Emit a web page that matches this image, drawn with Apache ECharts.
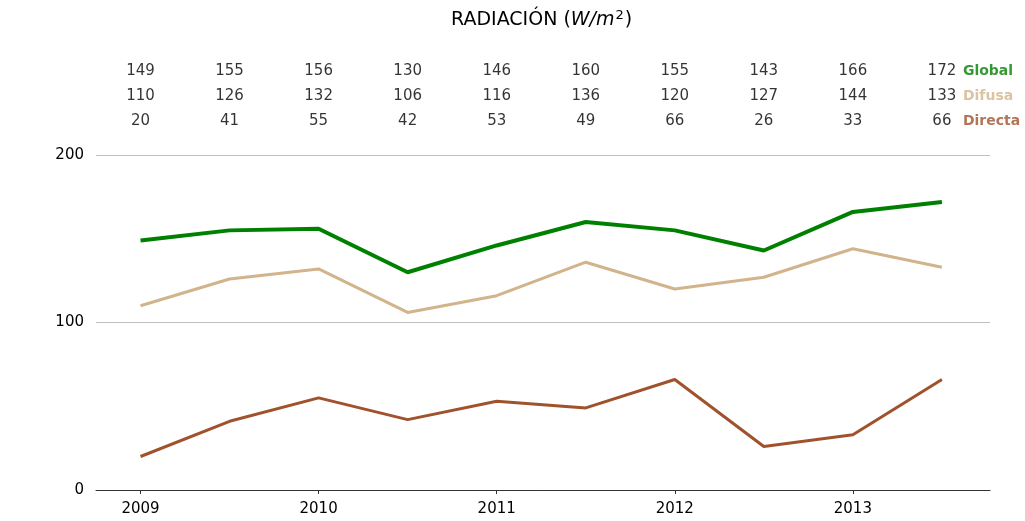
<!DOCTYPE html>
<html lang="es">
<head>
    <meta charset="UTF-8">
    <title>Radiación</title>
    <style>
        html, body { margin: 0; padding: 0; background: #fff; }
        #main { width: 1025px; height: 521px; }
    </style>
</head>
<body>
<div id="main"></div>
<script src="https://cdn.jsdelivr.net/npm/echarts@6/dist/echarts.min.js"></script>
<script>
    // semestres (2009, 2009.5, ...)
    const periods = [2009, 2009.5, 2010, 2010.5, 2011, 2011.5, 2012, 2012.5, 2013, 2013.5]
    const yearTicks = [2009, 2010, 2011, 2012, 2013]
    const globalVals = [149, 155, 156, 130, 146, 160, 155, 143, 166, 172]
    const difusaVals = [110, 126, 132, 106, 116, 136, 120, 127, 144, 133]
    const directaVals = [20, 41, 55, 42, 53, 49, 66, 26, 33, 66]
    const rowNames = ['Directa', 'Difusa', 'Global']

    const font = 'DejaVu Sans'
    const colors = { Global: '#008000', Difusa: '#d2b48c', Directa: '#a0522d' }
    const valsByName = { Global: globalVals, Difusa: difusaVals, Directa: directaVals }

    let myChart = echarts.init(document.querySelector('#main'))

    const xRange = { min: 2008.75, max: 2013.77 }

    // filas de números sobre la gráfica
    let numberSeries = rowNames.map(name => ({
        type: 'scatter',
        xAxisIndex: 1,
        yAxisIndex: 1,
        symbolSize: 0,
        silent: true,
        data: periods.map((p, i) => [p, name, valsByName[name][i]]),
        label: {
            show: true,
            position: 'inside',
            formatter: p => String(p.value[2]),
            color: '#000',
            fontFamily: font,
            fontSize: 15
        }
    }))

    let nameSeries = {
        type: 'scatter',
        xAxisIndex: 1,
        yAxisIndex: 1,
        symbolSize: 0,
        silent: true,
        data: rowNames.map(name => ({
            value: [periods[periods.length - 1], name],
            label: { color: colors[name] }
        })),
        label: {
            show: true,
            position: 'right',
            distance: 21,
            formatter: p => p.value[1],
            fontFamily: font,
            fontSize: 14,
            fontWeight: 'bold'
        }
    }

    let lineSeries = [
        { name: 'Global', data: globalVals, width: 4 },
        { name: 'Difusa', data: difusaVals, width: 3 },
        { name: 'Directa', data: directaVals, width: 3 }
    ].map(s => ({
        name: s.name,
        type: 'line',
        xAxisIndex: 0,
        yAxisIndex: 0,
        showSymbol: false,
        silent: true,
        data: periods.map((p, i) => [p, s.data[i]]),
        lineStyle: { color: colors[s.name], width: s.width },
        itemStyle: { color: colors[s.name] },
        z: s.name === 'Global' ? 3 : 2
    }))

    let option = {
        animation: false,
        backgroundColor: '#fff',
        textStyle: { fontFamily: font },
        title: {
            text: 'RADIACIÓN ({i|W/m}{sup|2})',
            left: 446,
            top: 4,
            textStyle: {
                fontFamily: font,
                fontSize: 19,
                fontWeight: 'normal',
                color: '#000',
                rich: {
                    i: { fontFamily: font, fontSize: 19, fontStyle: 'italic', color: '#000' },
                    sup: { fontFamily: font, fontSize: 13, color: '#000', padding: [0, 1, 10, 1] }
                }
            }
        },
        grid: [
            { left: 96, right: 35, top: 155, bottom: 31 },
            { left: 96, right: 35, top: 58.5, height: 75 }
        ],
        xAxis: [
            {
                type: 'value',
                gridIndex: 0,
                min: xRange.min,
                max: xRange.max,
                splitLine: { show: false },
                axisLine: { lineStyle: { color: '#333', width: 1 } },
                axisTick: { show: true, length: 4, customValues: yearTicks, lineStyle: { color: '#333' } },
                axisLabel: {
                    customValues: yearTicks,
                    margin: 12,
                    color: '#000',
                    fontFamily: font,
                    fontSize: 15,
                    formatter: v => String(v)
                }
            },
            {
                type: 'value',
                gridIndex: 1,
                min: xRange.min,
                max: xRange.max,
                show: false
            }
        ],
        yAxis: [
            {
                type: 'value',
                gridIndex: 0,
                min: 0,
                max: 200,
                interval: 100,
                axisLine: { show: false },
                axisTick: { show: false },
                splitLine: { lineStyle: { color: '#c0c0c0', width: 1 } },
                axisLabel: { margin: 12, color: '#000', fontFamily: font, fontSize: 15 }
            },
            {
                type: 'category',
                gridIndex: 1,
                data: rowNames,
                show: false
            }
        ],
        series: [...lineSeries, ...numberSeries, nameSeries]
    }
    myChart.setOption(option)
</script>
</body>
</html>
